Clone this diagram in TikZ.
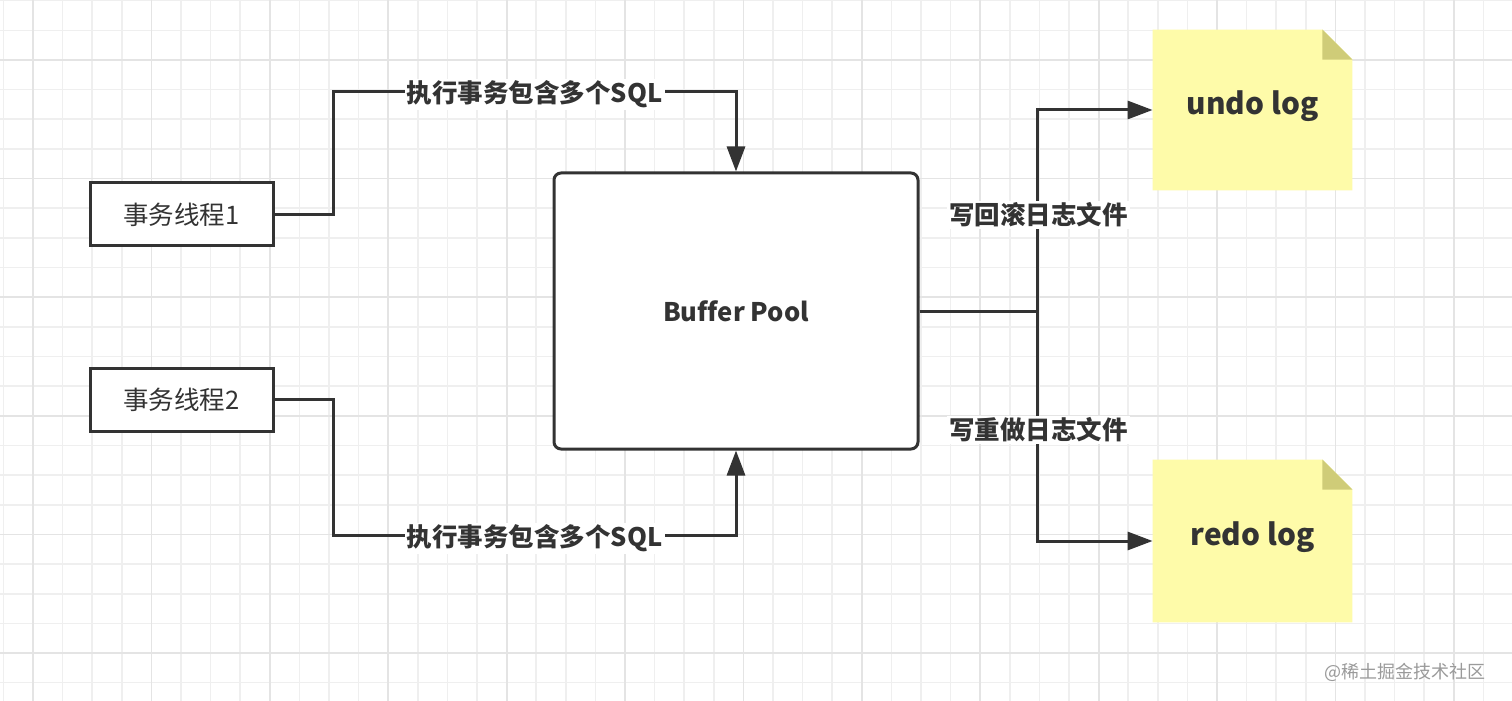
\documentclass[tikz,border=0pt]{standalone}
\usepackage{fontspec}
\setmainfont{Noto Sans CJK SC}[Ligatures=NoCommon]
\usetikzlibrary{arrows.meta,calc}
\definecolor{ink}{HTML}{333333}
\definecolor{notefill}{HTML}{FEFBA9}
\definecolor{notefold}{HTML}{CFCC78}
\definecolor{gminor}{HTML}{EFEFEF}
\definecolor{gmajor}{HTML}{E4E4E4}
\definecolor{wmark}{HTML}{9A9A9A}
\pgfdeclarelayer{gridlayer}
\pgfdeclarelayer{bglayer}
\pgfsetlayers{gridlayer,bglayer,main}
\tikzset{
  minorgrid/.style={gminor, line width=0.8pt},
  majorgrid/.style={gmajor, line width=0.9pt},
  threadbox/.style={draw=ink, line width=1.5pt, fill=white, minimum width=91.5pt, minimum height=31.5pt, inner sep=0pt, text=ink, font=\fontsize{12.75}{15}\selectfont},
  poolbox/.style={draw=ink, line width=1.5pt, fill=white, rounded corners=3.5pt, minimum width=182pt, minimum height=138pt, inner sep=0pt, text=ink, font=\fontsize{12.8}{15}\selectfont\bfseries},
  notebox/.style={minimum width=99.5pt, minimum height=80pt, inner sep=0pt},
  notetext/.style={text=ink, font=\fontsize{14.9}{18}\selectfont\bfseries},
  edgelabel/.style={fill=white, inner sep=1pt, text=ink, font=\fontsize{12.75}{15}\selectfont\bfseries},
  conn/.style={draw=ink, line width=1.5pt},
  arr/.style={conn, -{Triangle[length=12.5pt,width=9pt]}},
}
\begin{document}
\begin{tikzpicture}[x=0.5pt,y=-0.5pt]
\useasboundingbox (0,0) rectangle (1512,701);
\begin{pgfonlayer}{gridlayer}
\fill[white] (0,0) rectangle (1512,701);
\foreach \k in {0,...,50} \draw[minorgrid] ({3.4+29.6*\k},0) -- ({3.4+29.6*\k},701);
\foreach \k in {0,...,23} \draw[minorgrid] (0,{0.7+29.65*\k}) -- (1512,{0.7+29.65*\k});
\foreach \k in {1,5,...,49} \draw[majorgrid] ({3.4+29.6*\k},0) -- ({3.4+29.6*\k},701);
\foreach \k in {2,6,...,22} \draw[majorgrid] (0,{0.7+29.65*\k}) -- (1512,{0.7+29.65*\k});
\end{pgfonlayer}

% nodes
\node[threadbox] (t1) at (181.5,214.5) {事务线程1};
\node[threadbox] (t2) at (181.5,399.5) {事务线程2};
\node[poolbox] (bp) at (736,311) {Buffer Pool};
\node[notebox] (undo) at (1252.5,110) {};
\node[notebox, minimum height=81pt] (redo) at (1252.5,541) {};
\node[notetext] (undotext) at (1252.5,106) {undo log};
\node[notetext] (redotext) at (1252.5,537) {redo log};

\begin{pgfonlayer}{bglayer}
\foreach \n in {undo,redo}{
  \fill[notefill] (\n.north west) -- ($(\n.north east)+(-30,0)$) -- ($(\n.north east)+(0,30)$) -- (\n.south east) -- (\n.south west) -- cycle;
  \fill[notefold] ($(\n.north east)+(-30,0)$) -- ($(\n.north east)+(0,30)$) -- ($(\n.north east)+(-30,30)$) -- cycle;
}
\end{pgfonlayer}

% left connectors
\coordinate (c1a) at ($(t1.east)+(59,0)$);
\coordinate (c1b) at ($(bp.north)+(0,-80)$);
\coordinate (c1m) at (c1a |- c1b);
\draw[arr] (t1.east) -- (c1a) -- (c1m) -- (c1b) -- (bp.north);
\node[edgelabel] (l1) at ($(c1m)!0.5!(c1b)+(0,3)$) {执行事务包含多个SQL};

\coordinate (c2a) at ($(t2.east)+(59,0)$);
\coordinate (c2b) at ($(bp.south)+(0,85)$);
\coordinate (c2m) at (c2a |- c2b);
\draw[arr] (t2.east) -- (c2a) -- (c2m) -- (c2b) -- (bp.south);
\node[edgelabel] (l2) at ($(c2m)!0.5!(c2b)+(0,3)$) {执行事务包含多个SQL};

% right connectors
\coordinate (j) at ($(bp.east)+(118,0)$);
\draw[arr] (bp.east) -- (j) |- (undo.west);
\draw[arr] (bp.east) -- (j) |- (redo.west);
\node[edgelabel] (l3) at ($(j)+(1,-96)$) {写回滚日志文件};
\node[edgelabel] (l4) at ($(j)+(1,119)$) {写重做日志文件};

% watermark
\node[text=wmark, font=\fontsize{9}{11}\selectfont, anchor=east] (wm) at (1493,672) {@稀土掘金技术社区};
\end{tikzpicture}
\end{document}
